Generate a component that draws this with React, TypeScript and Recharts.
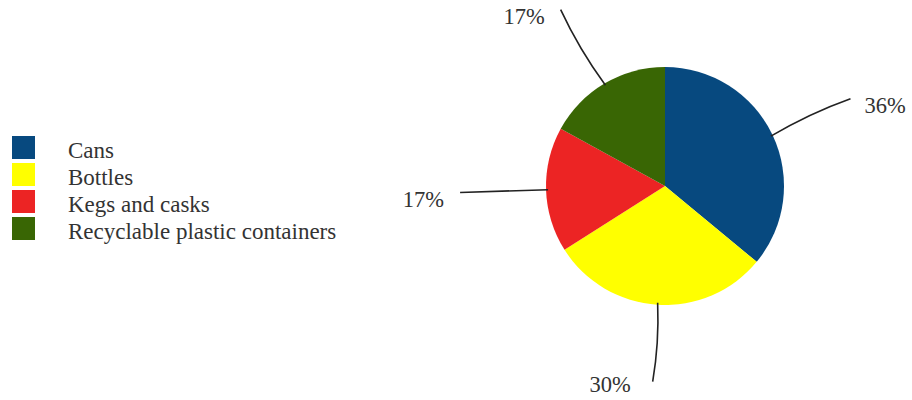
import React from 'react'
import { PieChart, Pie, Cell, Legend } from 'recharts'

const categories = ['Cans', 'Bottles', 'Kegs and casks', 'Recyclable plastic containers']
const shares = [36, 30, 17, 17]
const colors = ['#07497f', '#ffff00', '#ec2424', '#396604']

const data = categories.map((name, i) => ({ name, value: shares[i] }))

const RAD = Math.PI / 180
const font = '"Liberation Serif", "Times New Roman", serif'

const renderLabel = (props: any) => {
  const { cx, cy, midAngle, outerRadius, percent } = props
  const pt = (r: number, a: number) => [cx + r * Math.cos(-a * RAD), cy + r * Math.sin(-a * RAD)]
  const sin = Math.sin(midAngle * RAD)
  const down = sin < -0.7
  const ext = down ? 77 : 86
  const [sx, sy] = pt(outerRadius - 2, midAngle)
  const [qx, qy] = pt(outerRadius + ext / 2, midAngle + (Math.abs(sin) < 0.2 ? 0 : 1.5))
  const [ex, ey] = pt(outerRadius + ext, midAngle)
  const right = Math.cos(midAngle * RAD) >= 0.2
  const tx = right ? ex + 14 : ex - (down ? 22 : 16)
  return (
    <g>
      <path d={`M${sx},${sy}Q${qx},${qy} ${ex},${ey}`} stroke="#222" strokeWidth={1.6} fill="none" />
      <text x={tx} y={ey + (down ? 3 : 7)} textAnchor={right ? 'start' : 'end'} dominantBaseline="central"
        fontFamily={font} fontSize={22.5} fill="#333">
        {`${Math.round(percent * 100)}%`}
      </text>
    </g>
  )
}

const LegendBox = () => (
  <div style={{ fontFamily: font, fontSize: 23, color: '#333' }}>
    {categories.map((name, i) => (
      <div key={name} style={{ display: 'flex', alignItems: 'center', height: 27 }}>
        <span style={{ width: 23, height: 23, background: colors[i], display: 'inline-block', marginRight: 33, flexShrink: 0 }} />
        <span style={{ lineHeight: '27px', marginTop: 6, whiteSpace: 'nowrap' }}>{name}</span>
      </div>
    ))}
  </div>
)

export default function App() {
  return (
    <div style={{ position: 'absolute', left: 0, top: 0, width: 912, height: 400, background: '#fff' }}>
      <PieChart width={912} height={400} margin={{ top: 0, right: 0, bottom: 0, left: 0 }}>
        <Pie data={data} dataKey="value" nameKey="name" cx={665} cy={186} outerRadius={119}
          startAngle={90} endAngle={-270} stroke="none" label={renderLabel} labelLine={false}
          isAnimationActive={false}>
          {data.map((d, i) => <Cell key={d.name} fill={colors[i]} />)}
        </Pie>
        <Legend layout="vertical" align="center" verticalAlign="middle" content={<LegendBox />}
          wrapperStyle={{ left: 12, top: 134, width: 380 }} />
      </PieChart>
    </div>
  )
}
